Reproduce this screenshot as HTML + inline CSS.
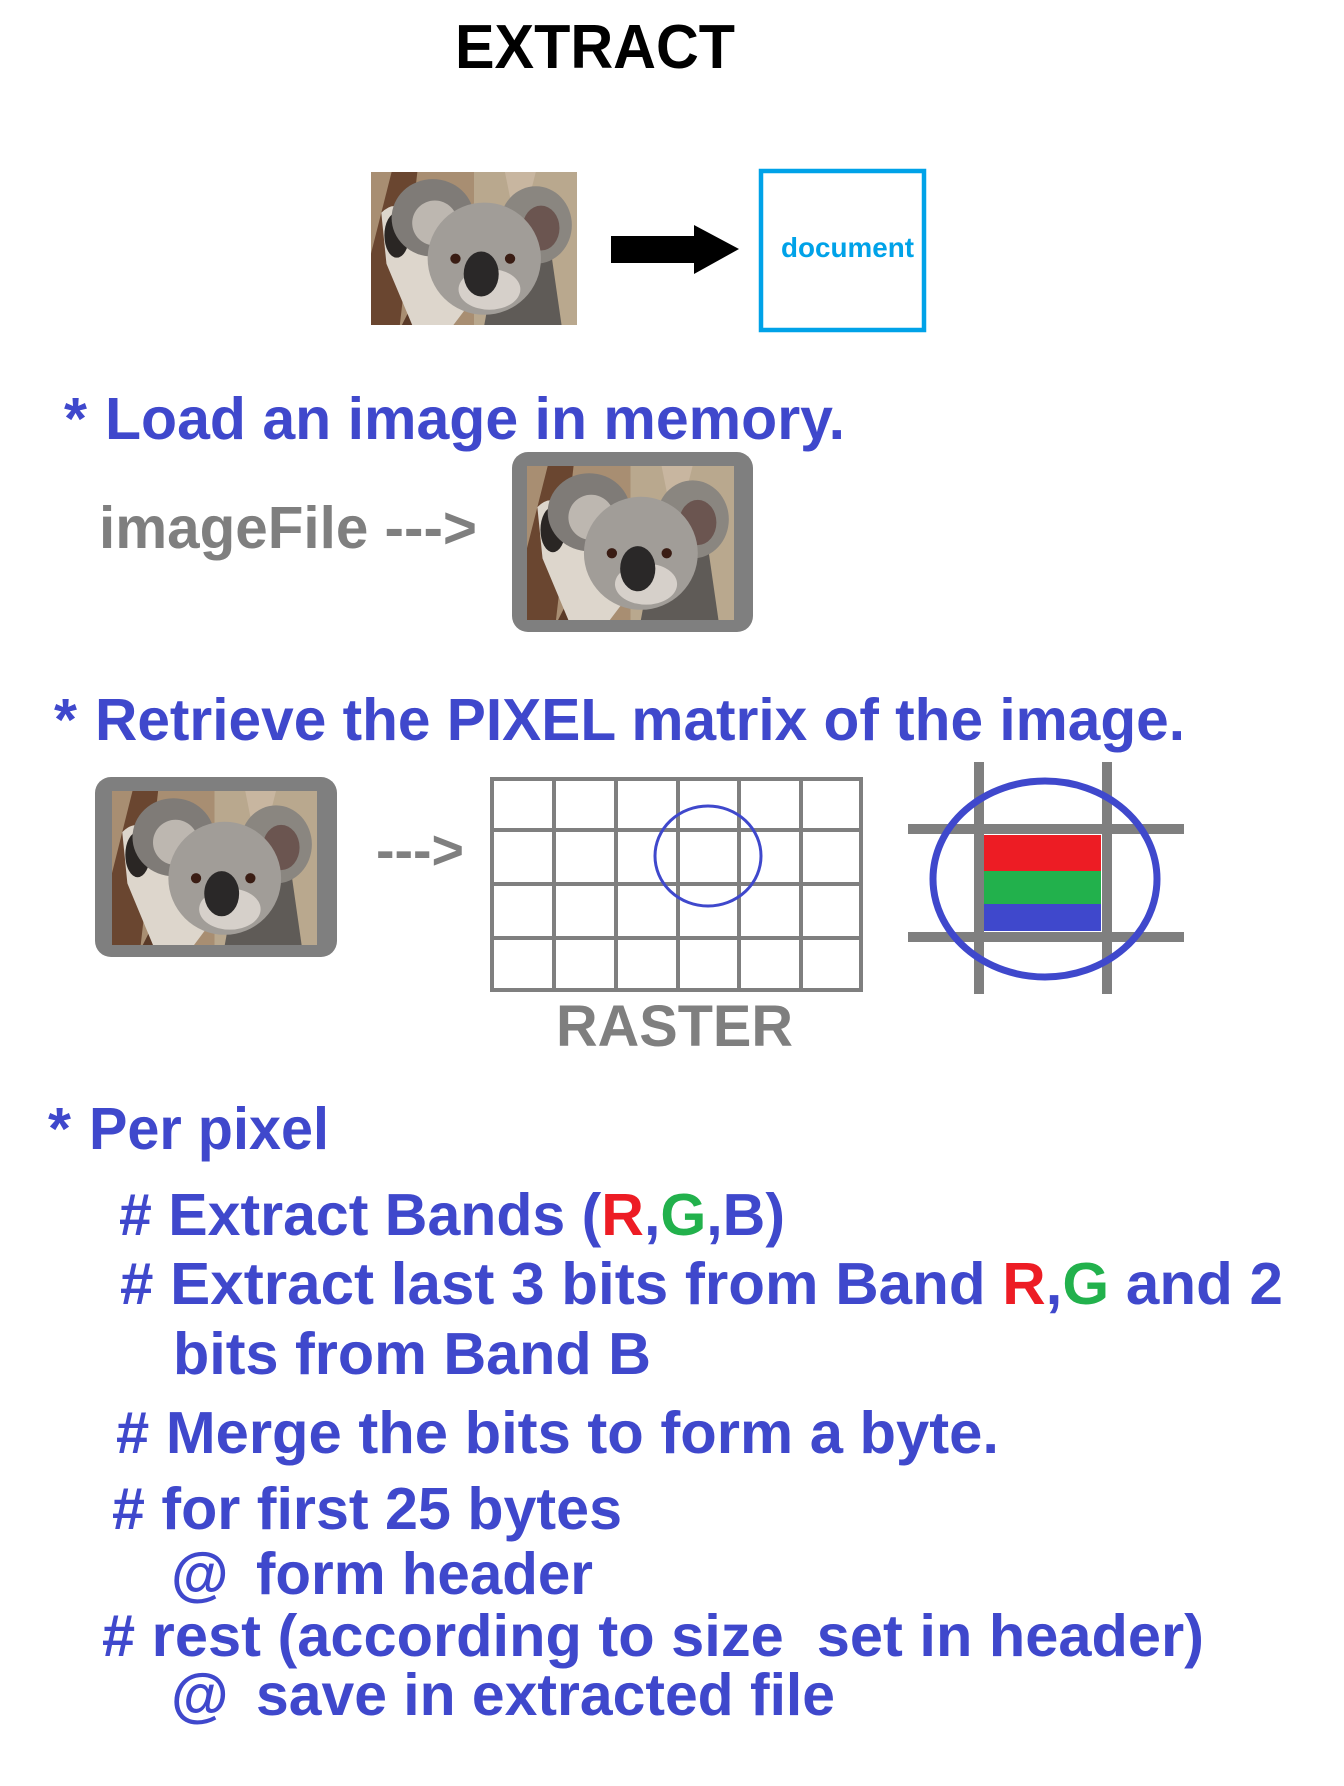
<!DOCTYPE html>
<html><head><meta charset="utf-8"><style>
html,body{margin:0;padding:0;background:#fff;}
svg{display:block;}
text{font-family:"Liberation Sans",Arial,sans-serif;font-weight:bold;}
</style></head><body>
<svg width="1344" height="1786" viewBox="0 0 1344 1786" xmlns="http://www.w3.org/2000/svg">
<defs>
<clipPath id="kc"><rect x="0" y="0" width="200" height="150"/></clipPath>
<g id="koala">
<g clip-path="url(#kc)">
<rect width="200" height="150" fill="#a88e72"/>
<rect x="100" y="0" width="100" height="150" fill="#b9a88e"/>
<path d="M130 0 L160 0 L150 40 L138 40 Z" fill="#c8b6a0"/>
<path d="M0 150 L0 80 L20 0 L45 0 L28 150 Z" fill="#6a4630"/>
<path d="M30 150 L45 120 L60 150 Z" fill="#5a3a28"/>
<path d="M110 150 L120 95 L175 80 L185 150 Z" fill="#5f5b57"/>
<path d="M10 40 Q30 20 45 60 L95 130 L80 150 L40 150 L15 90 Z" fill="#ddd6cc"/>
<ellipse cx="25" cy="62" rx="12" ry="22" fill="#2a2624"/>
<ellipse cx="60" cy="45" rx="40" ry="38" fill="#7f7b77"/>
<ellipse cx="62" cy="50" rx="22" ry="22" fill="#bdb7b0"/>
<ellipse cx="160" cy="52" rx="35" ry="38" fill="#8a8680"/>
<ellipse cx="165" cy="55" rx="18" ry="22" fill="#6b5550"/>
<ellipse cx="110" cy="85" rx="55" ry="55" fill="#a19d98"/>
<ellipse cx="115" cy="115" rx="30" ry="20" fill="#d6d0ca"/>
<circle cx="82" cy="85" r="5" fill="#3a1d14"/>
<circle cx="135" cy="85" r="5" fill="#3a1d14"/>
<ellipse cx="107" cy="100" rx="17" ry="22" fill="#2a2828"/>
</g></g>
</defs>

<text x="455" y="68" font-size="62" fill="#000" textLength="280" lengthAdjust="spacingAndGlyphs">EXTRACT</text>

<use href="#koala" transform="translate(371,172) scale(1.03,1.02)"/>
<rect x="611" y="236" width="85" height="27" fill="#000"/>
<polygon points="694,225 739,249 694,274" fill="#000"/>
<rect x="761" y="171" width="163" height="159" fill="none" stroke="#00a2e8" stroke-width="4.5"/>
<text x="781" y="257" font-size="28" fill="#00a2e8" textLength="133" lengthAdjust="spacingAndGlyphs">document</text>

<text x="64" y="439" font-size="59" fill="#3f48cc">*</text>
<text x="105" y="439" font-size="59" fill="#3f48cc" textLength="740" lengthAdjust="spacingAndGlyphs">Load an image in memory.</text>
<text x="99" y="548" font-size="59" fill="#7f7f7f" textLength="378" lengthAdjust="spacingAndGlyphs">imageFile ---&gt;</text>
<rect x="512" y="452" width="241" height="180" rx="16" fill="#7f7f7f"/>
<use href="#koala" transform="translate(527,466) scale(1.035,1.027)"/>

<text x="54" y="740" font-size="59" fill="#3f48cc">*</text>
<text x="95" y="740" font-size="59" fill="#3f48cc" textLength="1090" lengthAdjust="spacingAndGlyphs">Retrieve the PIXEL matrix of the image.</text>
<rect x="95" y="777" width="242" height="180" rx="16" fill="#7f7f7f"/>
<use href="#koala" transform="translate(112,791) scale(1.025,1.027)"/>
<text x="376" y="869" font-size="56" fill="#7f7f7f" textLength="88" lengthAdjust="spacingAndGlyphs">---&gt;</text>

<g stroke="#7f7f7f" stroke-width="4" fill="none">
<rect x="492" y="779" width="369" height="211"/>
<line x1="554" y1="779" x2="554" y2="990"/>
<line x1="616" y1="779" x2="616" y2="990"/>
<line x1="678" y1="779" x2="678" y2="990"/>
<line x1="739" y1="779" x2="739" y2="990"/>
<line x1="801" y1="779" x2="801" y2="990"/>
<line x1="492" y1="830" x2="861" y2="830"/>
<line x1="492" y1="884" x2="861" y2="884"/>
<line x1="492" y1="938" x2="861" y2="938"/>
</g>
<ellipse cx="708" cy="856" rx="53" ry="50" fill="none" stroke="#3f48cc" stroke-width="3"/>
<text x="556" y="1046" font-size="58" fill="#7f7f7f" textLength="237" lengthAdjust="spacingAndGlyphs">RASTER</text>

<g stroke="#7f7f7f" stroke-width="10">
<line x1="979" y1="762" x2="979" y2="994"/>
<line x1="1107" y1="762" x2="1107" y2="994"/>
<line x1="908" y1="829" x2="1184" y2="829"/>
<line x1="908" y1="937" x2="1184" y2="937"/>
</g>
<rect x="984" y="835" width="117" height="36" fill="#ed1c24"/>
<rect x="984" y="871" width="117" height="33" fill="#22b14c"/>
<rect x="984" y="904" width="117" height="27" fill="#3f48cc"/>
<ellipse cx="1045" cy="879" rx="112" ry="98" fill="none" stroke="#3f48cc" stroke-width="7"/>

<g font-size="59" fill="#3f48cc">
<text x="48" y="1149">*</text>
<text x="89" y="1149" textLength="240" lengthAdjust="spacingAndGlyphs">Per pixel</text>
<text x="119" y="1235" textLength="666" lengthAdjust="spacingAndGlyphs"># Extract Bands (<tspan fill="#ed1c24">R</tspan>,<tspan fill="#22b14c">G</tspan>,B)</text>
<text x="120" y="1304" textLength="1163" lengthAdjust="spacingAndGlyphs"># Extract last 3 bits from Band <tspan fill="#ed1c24">R</tspan>,<tspan fill="#22b14c">G</tspan> and 2</text>
<text x="173" y="1374" textLength="478" lengthAdjust="spacingAndGlyphs">bits from Band B</text>
<text x="116" y="1453" textLength="883" lengthAdjust="spacingAndGlyphs"># Merge the bits to form a byte.</text>
<text x="112" y="1529" textLength="510" lengthAdjust="spacingAndGlyphs"># for first 25 bytes</text>
<text x="171" y="1594">@</text>
<text x="256" y="1594" textLength="337" lengthAdjust="spacingAndGlyphs">form header</text>
<text x="102" y="1656" textLength="1102" lengthAdjust="spacingAndGlyphs"># rest (according to size&#160; set in header)</text>
<text x="171" y="1715">@</text>
<text x="256" y="1715" textLength="579" lengthAdjust="spacingAndGlyphs">save in extracted file</text>
</g>
</svg>
</body></html>
